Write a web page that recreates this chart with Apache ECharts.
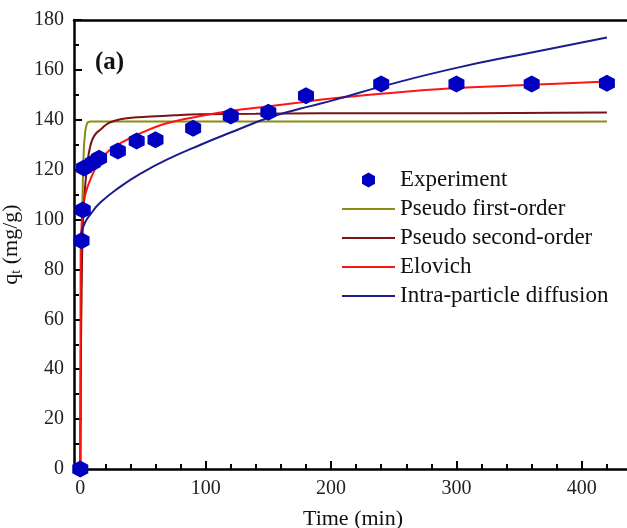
<!DOCTYPE html>
<html>
<head>
<meta charset="utf-8">
<script src="https://cdn.jsdelivr.net/npm/echarts@6/dist/echarts.min.js"></script>
<style>
  html, body { margin: 0; padding: 0; background: #fff; }
  #chart { width: 627px; height: 528px; }
</style>
</head>
<body>
<div id="chart"></div>
<script>
// experimental points (time in min, qt in mg/g)
var expTime = [0, 1, 2, 3, 10, 15, 30, 45, 60, 90, 120, 150, 180, 240, 300, 360, 420];
var expQ = [0, 91.5, 103.8, 120.7, 122.8, 124.6, 127.5, 131.5, 132, 136.6, 141.5, 143, 149.6, 154.3, 154.3, 154.3, 154.6];

// fitted curves
var pfoTime = [0, 0.5, 1, 1.5, 2, 2.5, 3, 4, 5, 6, 8, 12, 420];
var pfoQ = [0, 45, 78, 100, 114, 124, 130, 135.5, 138, 139, 139.3, 139.3, 139.3];

var psoTime = [0, 0.5, 1, 2, 3, 4, 6, 8, 10, 13, 16, 20, 24, 32, 45, 56, 75, 96, 140, 191, 260, 350, 420];
var psoQ = [0, 45, 72, 97, 107, 114, 124, 129.5, 132.5, 134.8, 136, 137.8, 139, 140.2, 141, 141.3, 141.8, 142.2, 142.4, 142.6, 142.6, 142.7, 142.9];

var eloTime = [0.1, 0.3, 1, 2, 4, 8, 16, 24, 32, 48, 69, 96, 122, 149, 175, 191, 240, 300, 360, 420];
var eloQ = [0, 86, 97, 104, 110, 116, 124, 128, 130.6, 134.6, 138.6, 141.5, 143.7, 145.3, 146.9, 148, 150.4, 152.7, 154, 155.3];

var ipdTime = [0, 1, 4, 8, 16, 32, 48, 69, 96, 122, 149, 175, 191, 207, 240, 300, 360, 420];
var ipdQ = [91, 95, 99, 102, 106.8, 113.2, 118.4, 124, 130, 135.3, 140.6, 144.4, 146.4, 148.6, 153.3, 160.8, 167, 173];

var xMajor = [0, 100, 200, 300, 400];
var xMinor = [20, 40, 60, 80, 120, 140, 160, 180, 220, 240, 260, 280, 320, 340, 360, 380, 420];

function pairs(xs, ys) {
  return xs.map(function (x, i) { return [x, ys[i]]; });
}

var font = 'Liberation Serif';
var hexagon = 'path://M0,-1L0.866,-0.5L0.866,0.5L0,1L-0.866,0.5L-0.866,-0.5Z';
var lineIcon = 'path://M0,0L53,0L53,2L0,2Z';

var myChart = echarts.init(document.getElementById('chart'));

function lineSeries(name, data, color, smooth) {
  return {
    name: name,
    type: 'line',
    data: data,
    symbol: 'none',
    smooth: smooth,
    lineStyle: { color: color, width: 2 },
    itemStyle: { color: color },
    z: 2
  };
}

var option = {
  animation: false,
  backgroundColor: '#fff',
  grid: { left: 74, top: 20, width: 558, height: 449, outerBoundsMode: 'none', containLabel: false },
  graphic: [{
    type: 'text',
    left: 95,
    top: 50,
    style: { text: '(a)', font: 'bold 25px "Liberation Serif"', fill: '#111' }
  }],
  legend: {
    orient: 'vertical',
    left: 342,
    top: 168,
    padding: 0,
    itemWidth: 53,
    itemHeight: 15,
    itemGap: 5,
    textStyle: { fontFamily: font, fontSize: 23, color: '#111', lineHeight: 24 },
    data: [
      { name: 'Experiment' },
      { name: 'Pseudo first-order', icon: lineIcon },
      { name: 'Pseudo second-order', icon: lineIcon },
      { name: 'Elovich', icon: lineIcon },
      { name: 'Intra-particle diffusion', icon: lineIcon }
    ]
  },
  xAxis: [{
    type: 'value',
    min: -5,
    max: 440,
    position: 'bottom',
    name: 'Time (min)',
    nameLocation: 'middle',
    nameGap: 39,
    nameTextStyle: { fontFamily: font, fontSize: 22, color: '#111' },
    splitLine: { show: false },
    axisLine: { onZero: false, lineStyle: { color: '#000', width: 2.5 } },
    axisTick: { inside: true, length: 8, customValues: xMajor, lineStyle: { color: '#000', width: 2 } },
    axisLabel: { customValues: xMajor, margin: 10, fontFamily: font, fontSize: 20, color: '#222' }
  }, {
    type: 'value',
    min: -5,
    max: 440,
    position: 'bottom',
    offset: 0,
    splitLine: { show: false },
    axisLine: { show: false, onZero: false },
    axisTick: { inside: true, length: 5, customValues: xMinor, lineStyle: { color: '#000', width: 2 } },
    axisLabel: { show: false }
  }, {
    type: 'value',
    min: -5,
    max: 440,
    position: 'top',
    splitLine: { show: false },
    axisLine: { onZero: false, lineStyle: { color: '#000', width: 2.5 } },
    axisTick: { show: false },
    axisLabel: { show: false }
  }],
  yAxis: {
    type: 'value',
    min: 0,
    max: 180,
    interval: 20,
    name: '{q|q}{t|t}{q| (mg/g)}',
    nameLocation: 'middle',
    nameGap: 46,
    nameTextStyle: {
      fontFamily: font,
      color: '#111',
      rich: {
        q: { fontFamily: font, fontSize: 22, color: '#111', lineHeight: 24 },
        t: { fontFamily: font, fontSize: 14, color: '#111', lineHeight: 24, verticalAlign: 'bottom', padding: [8, 0, 0, 0] }
      }
    },
    splitLine: { show: false },
    axisLine: { onZero: false, lineStyle: { color: '#000', width: 2.5 } },
    axisTick: { inside: true, length: 8, lineStyle: { color: '#000', width: 2 } },
    minorTick: { show: true, splitNumber: 2, length: 5, lineStyle: { color: '#000', width: 2 } },
    axisLabel: { margin: 10, fontFamily: font, fontSize: 20, color: '#222' }
  },
  series: [
    {
      name: 'Experiment',
      type: 'scatter',
      data: pairs(expTime, expQ),
      symbol: hexagon,
      symbolSize: [16, 17],
      itemStyle: { color: '#0000c0', opacity: 1 },
      z: 3
    },
    lineSeries('Pseudo first-order', pairs(pfoTime, pfoQ), '#8c8c14', false),
    lineSeries('Pseudo second-order', pairs(psoTime, psoQ), '#7a1414', 0.3),
    lineSeries('Elovich', pairs(eloTime, eloQ), '#ff1414', 0.4),
    lineSeries('Intra-particle diffusion', pairs(ipdTime, ipdQ), '#1c1c8c', 0.5)
  ]
};

myChart.setOption(option);
</script>
</body>
</html>
